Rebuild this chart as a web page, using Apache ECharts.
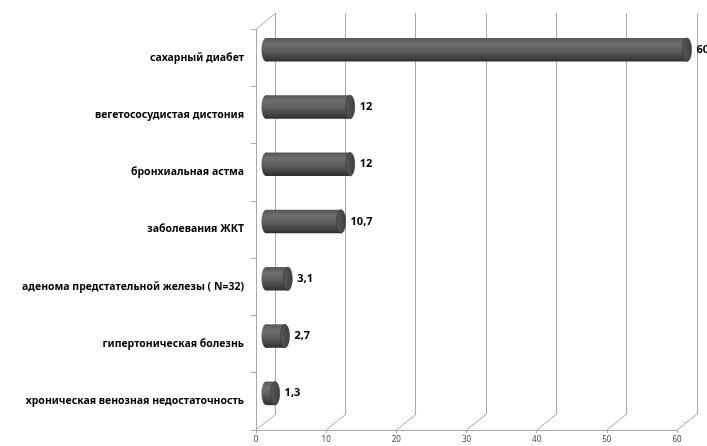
<!DOCTYPE html>
<html>
<head>
<meta charset="utf-8">
<script src="https://cdn.jsdelivr.net/npm/echarts@6/dist/echarts.min.js"></script>
<style>
  html, body { margin: 0; padding: 0; background: #fff; }
  #chart { width: 707px; height: 446px; }
</style>
</head>
<body>
<div id="chart"></div>
<script>
// категории сверху вниз
var categories = [
    'сахарный диабет',
    'вегетососудистая дистония',
    'бронхиальная астма',
    'заболевания ЖКТ',
    'аденома предстательной железы ( N=32)',
    'гипертоническая болезнь',
    'хроническая венозная недостаточность'
];
var values = [60, 12, 12, 10.7, 3.1, 2.7, 1.3];
var xTicks = [0, 10, 20, 30, 40, 50, 60];

var DEPTH_X = 20, DEPTH_Y = -16;   // смещение задней стенки
var gridColor = '#a8a8a8';

var chart = echarts.init(document.getElementById('chart'));

function fmt(v) {
    return String(v).replace('.', ',');
}

// диагонали пола и левой стенки
function renderDepth(params, api) {
    var cs = params.coordSys;
    var v = api.value(0);
    var x = api.coord([v, 0])[0];
    var yb = cs.y + cs.height;
    var children = [{
        type: 'line',
        shape: { x1: x, y1: yb, x2: x + DEPTH_X, y2: yb + DEPTH_Y },
        style: { stroke: gridColor, lineWidth: 1 }
    }];
    if (v === 0) {
        children.push({
            type: 'line',
            shape: { x1: cs.x, y1: cs.y, x2: cs.x + DEPTH_X, y2: cs.y + DEPTH_Y },
            style: { stroke: gridColor, lineWidth: 1 }
        });
    }
    return { type: 'group', children: children };
}

// цилиндры
function renderCylinder(params, api) {
    var val = api.value(0), idx = api.value(1);
    var p0 = api.coord([0, idx]);
    var p1 = api.coord([val, idx]);
    var dx = DEPTH_X / 2, dy = DEPTH_Y / 2;
    var h = api.size([0, 1])[1] * 0.41;
    var rx = 4.5;
    var x0 = p0[0] + dx, x1 = p1[0] + dx, cy = p0[1] + dy;
    var body = new echarts.graphic.LinearGradient(0, 0, 0, 1, [
        { offset: 0, color: '#555' },
        { offset: 0.25, color: '#6e6e6e' },
        { offset: 0.55, color: '#5e5e5e' },
        { offset: 0.85, color: '#404040' },
        { offset: 1, color: '#2e2e2e' }
    ]);
    var cap = new echarts.graphic.LinearGradient(0, 0, 1, 0, [
        { offset: 0, color: '#5a5a5a' },
        { offset: 1, color: '#3e3e3e' }
    ]);
    return {
        type: 'group',
        children: [
            { type: 'ellipse', shape: { cx: x0, cy: cy, rx: rx, ry: h / 2 }, style: { fill: body } },
            { type: 'rect', shape: { x: x0, y: cy - h / 2, width: Math.max(x1 - x0, 0), height: h }, style: { fill: body } },
            { type: 'ellipse', shape: { cx: x1, cy: cy, rx: rx, ry: h / 2 }, style: { fill: cap, stroke: '#333', lineWidth: 0.6 } },
            {
                type: 'text',
                x: x1 + rx + 5, y: cy,
                style: {
                    text: fmt(val), fill: '#000',
                    font: 'bold 11px "Noto Sans"',
                    verticalAlign: 'middle', align: 'left'
                }
            }
        ]
    };
}

var option = {
    animation: false,
    backgroundColor: '#fff',
    grid: [
        { left: 275, top: 13, width: 422, height: 401 },   // задняя стенка
        { left: 256, top: 29, width: 421, height: 401 }    // передняя плоскость
    ],
    xAxis: [{
        gridIndex: 0, type: 'value', min: 0, max: 60, interval: 10,
        axisLine: { show: false }, axisTick: { show: false }, axisLabel: { show: false },
        splitLine: { show: true, lineStyle: { color: gridColor, width: 1 } }
    }, {
        gridIndex: 1, type: 'value', min: 0, max: 60, interval: 10,
        axisLine: { show: true, lineStyle: { color: gridColor } },
        axisTick: { show: true, length: 3, lineStyle: { color: gridColor } },
        axisLabel: { color: '#444', fontSize: 8, fontFamily: 'Noto Sans', margin: 6 },
        splitLine: { show: false }
    }],
    yAxis: [{
        gridIndex: 0, type: 'category', data: categories, inverse: true,
        axisLine: { show: false }, axisTick: { show: false }, axisLabel: { show: false },
        splitLine: { show: false }
    }, {
        gridIndex: 1, type: 'category', data: categories, inverse: true,
        axisLine: { show: true, lineStyle: { color: gridColor } },
        axisTick: { show: true, length: 5, lineStyle: { color: gridColor } },
        axisLabel: {
            color: '#000', fontSize: 10.5, fontWeight: 'bold',
            fontFamily: 'Noto Sans', margin: 12
        },
        splitLine: { show: false }
    }],
    series: [{
        type: 'custom',
        xAxisIndex: 1, yAxisIndex: 1,
        renderItem: renderDepth,
        data: xTicks.map(function (t) { return [t, 0]; }),
        silent: true,
        z: 1
    }, {
        type: 'custom',
        xAxisIndex: 1, yAxisIndex: 1,
        renderItem: renderCylinder,
        data: values.map(function (v, i) { return [v, i]; }),
        clip: false,
        z: 3
    }]
};

chart.setOption(option);
</script>
</body>
</html>
